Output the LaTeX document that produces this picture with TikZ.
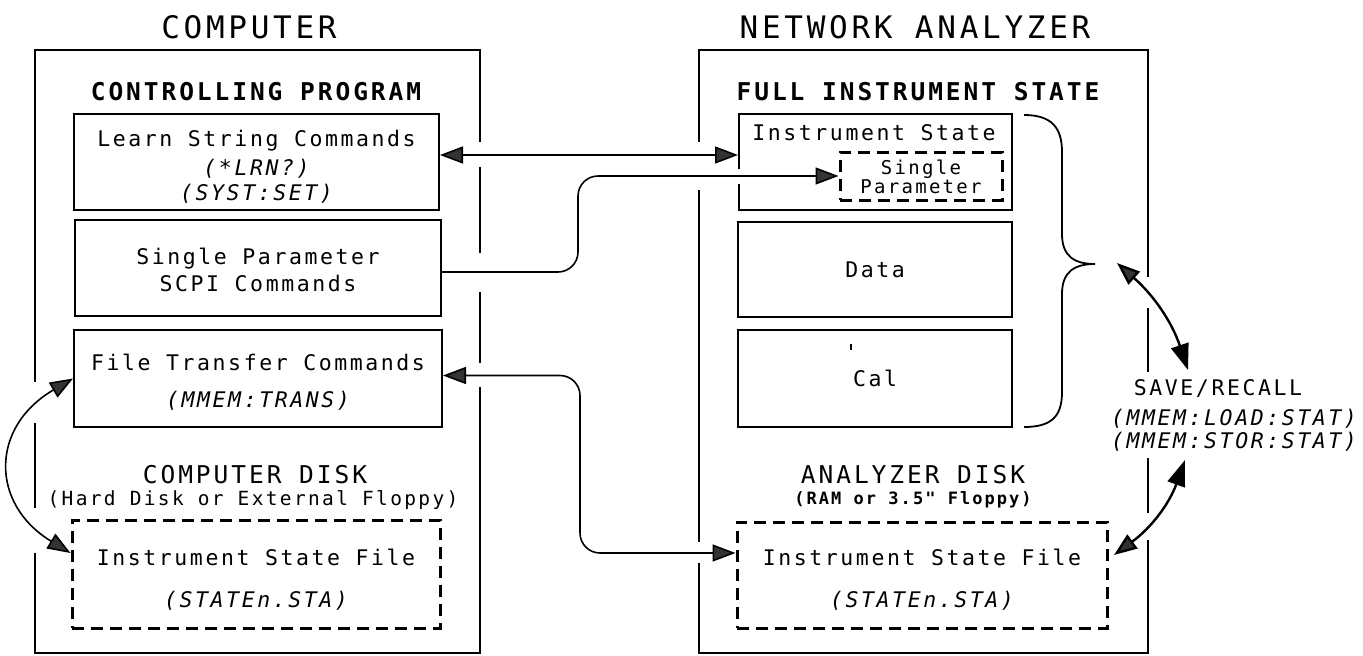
\documentclass[tikz,border=0pt]{standalone}
\usepackage{fontspec}
\setmainfont{DejaVu Sans Mono}[LetterSpace=12,BoldFont={DejaVu Sans Mono Bold},ItalicFont={DejaVu Sans Mono Oblique},BoldItalicFont={DejaVu Sans Mono Bold Oblique}]
\setmonofont{DejaVu Sans Mono}[LetterSpace=12,BoldFont={DejaVu Sans Mono Bold},ItalicFont={DejaVu Sans Mono Oblique},BoldItalicFont={DejaVu Sans Mono Bold Oblique}]
\usetikzlibrary{arrows.meta}
\newcommand\fsz[2]{\fontsize{#1}{#2}\selectfont}
\tikzset{
  frame/.style={draw,line width=2.2pt,line cap=butt,line join=miter},
  solidbox/.style={draw,line width=2pt,inner sep=0pt,align=center,font=\fsz{21.5}{27}},
  dashbox/.style={draw,line width=3pt,dash pattern=on 12pt off 7pt,inner sep=0pt,align=center,font=\fsz{21.5}{27}},
  hatch/.tip={Triangle[length=23pt,width=17pt,fill=black!80]},
  solidtip/.tip={Triangle[length=26pt,width=18pt]},
  conn/.style={line width=1.6pt},
  bigconn/.style={line width=2.4pt},
  lbl/.style={inner sep=1pt,anchor=base}
}
\begin{document}
\begin{tikzpicture}[x=1pt,y=-1pt]
\useasboundingbox[fill=white] (0,0) rectangle (1363,656);

% outer frames (with the gaps where connectors and labels cross them)
\draw[frame] (480,142) -- (480,50) -- (35,50) -- (35,382);
\draw[frame] (480,167) -- (480,253);
\draw[frame] (480,292) -- (480,363);
\draw[frame] (35,423) -- (35,508);
\draw[frame] (35,553) -- (35,653) -- (480,653) -- (480,387);
\draw[frame] (699,142) -- (699,50) -- (1148,50) -- (1148,277);
\draw[frame] (699,190) -- (699,542);
\draw[frame] (1148,308) -- (1148,372);
\draw[frame] (1148,458) -- (1148,513);
\draw[frame] (699,563) -- (699,653) -- (1148,653) -- (1148,540);

% titles
\node[lbl,font=\fsz{31}{31}] (tc) at (249,38) {COMPUTER};
\node[lbl,font=\fsz{31}{31}] (tn) at (915,38) {NETWORK ANALYZER};
\node[lbl,font=\fsz{24.5}{25}\bfseries] (hc) at (256,100) {CONTROLLING PROGRAM};
\node[lbl,font=\fsz{24.5}{25}\bfseries] (hn) at (918,100) {FULL INSTRUMENT STATE};

% computer side
\node[solidbox,font=\fsz{21.5}{25},minimum width=365pt,minimum height=96pt] (ls) at (256.5,162)
  {\rule{0pt}{26pt}Learn String Commands\\[4pt]{\itshape (*LRN?)}\\{\itshape (SYST:SET)}};
\node[solidbox,minimum width=366pt,minimum height=96pt] (sp) at (258,268)
  {\rule{0pt}{21pt}Single Parameter\\SCPI Commands};
\node[solidbox,minimum width=368pt,minimum height=97pt] (ft) at (258,378.5)
  {\rule{0pt}{23pt}File Transfer Commands\\[10pt]{\itshape (MMEM:TRANS)}};
\node[lbl,font=\fsz{24.5}{25}] (dc) at (255,483) {COMPUTER DISK};
\node[lbl,font=\fsz{19.5}{20}] (dcs) at (253,505) {(Hard Disk or External Floppy)};
\node[dashbox,minimum width=368pt,minimum height=108pt] (cdf) at (256,574)
  {\rule{0pt}{27pt}Instrument State File\\[15pt]{\itshape (STATEn.STA)}};

% analyzer side
\node[solidbox,minimum width=273pt,minimum height=96pt] (is) at (875.5,162) {};
\node[lbl,font=\fsz{21.5}{22}] (ist) at (874,140) {Instrument State};
\node[dashbox,font=\fsz{19}{19},minimum width=162pt,minimum height=48pt] (spd) at (921,176)
  {\rule{0pt}{17pt}Single\\Parameter};
\node[solidbox,minimum width=274pt,minimum height=95pt] (data) at (875,269.5) {Data};
\node[solidbox,minimum width=274pt,minimum height=97pt] (cal) at (875,378.5) {Cal};
\draw[line width=1.6pt] (851,344) -- (851,350);
\node[lbl,font=\fsz{24.5}{25}] (dn) at (913,483) {ANALYZER DISK};
\node[lbl,font=\ttfamily\fsz{17}{17}\bfseries] (dns) at (913,504) {(RAM or 3.5" Floppy)};
\node[dashbox,minimum width=370pt,minimum height=106pt] (asf) at (922,575)
  {\rule{0pt}{25pt}Instrument State File\\[15pt]{\itshape (STATEn.STA)}};

% brace
\coordinate (bracetip) at (1095,264);
\draw[line width=1.8pt] (1024,115) .. controls (1052,115) and (1062,128) .. (1062,152) -- (1062,234)
  .. controls (1062,256) and (1074,264) .. (bracetip)
  .. controls (1074,264) and (1062,272) .. (1062,294) -- (1062,392)
  .. controls (1062,416) and (1052,427) .. (1024,427);

% save / recall
\node[lbl,font=\fsz{21.5}{22}] (sr1) at (1218,395) {SAVE/RECALL};
\node[lbl,font=\fsz{21.5}{22}\itshape] (sr2) at (1234,425) {(MMEM:LOAD:STAT)};
\node[lbl,font=\fsz{21.5}{22}\itshape] (sr3) at (1234,448) {(MMEM:STOR:STAT)};

% connectors
\coordinate (c2) at (578,230);
\coordinate (c3) at (580,460);
\coordinate (bt) at (1117,263);
\coordinate (srt) at (1188,370);
\coordinate (srb) at (1185,460);
\coordinate (asfr) at (1114,555);
\draw[white,line width=5pt] ([yshift=7pt]is.west |- spd.west) -- ([yshift=-8pt]is.west |- spd.west);
\draw[conn,{hatch}-{hatch}] ([yshift=7pt]ls.east) -- ([yshift=7pt]is.west);
\draw[conn,-{hatch},rounded corners=20pt] ([yshift=-4pt]sp.east) -| (c2) |- (spd.west);
\draw[conn,{hatch}-{hatch},rounded corners=20pt] ([yshift=3pt]ft.east) -| (c3) |- ([yshift=22pt]asf.west);
\draw[conn,{hatch}-{hatch}] (ft.west) .. controls (-10,427) and (-10,504) .. ([yshift=21pt]cdf.west);
\draw[bigconn,{hatch}-{solidtip}] (bt) to[bend left=15] (srt);
\draw[bigconn,{solidtip}-{hatch}] (srb) to[bend left=17] (asfr);
\end{tikzpicture}
\end{document}
